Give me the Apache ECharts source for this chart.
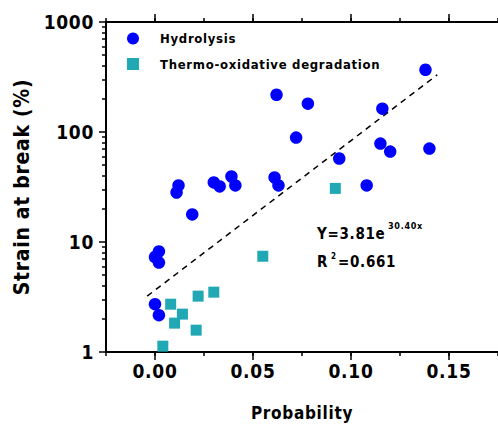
<!DOCTYPE html>
<html>
<head>
<meta charset="utf-8">
<script src="https://cdn.jsdelivr.net/npm/echarts@6/dist/echarts.min.js"></script>
<style>
html,body{margin:0;padding:0;background:#fff;}
#chart{width:498px;height:426px;}
#chart svg text{letter-spacing:0.7px;}
</style>
</head>
<body>
<div id="chart"></div>
<script>
// ---- data ----
var hydroX = [0.000, 0.002, 0.002, 0.000, 0.002, 0.019, 0.011, 0.012, 0.030, 0.033, 0.039, 0.041,
              0.062, 0.078, 0.116, 0.072, 0.115, 0.120, 0.140, 0.094, 0.061, 0.063, 0.108, 0.138];
var hydroY = [2.72, 2.16, 8.2, 7.3, 6.5, 17.8, 28.2, 32.7, 34.8, 32.0, 39.4, 32.7,
              218, 181, 163, 89, 78.5, 66.4, 70.7, 57.4, 38.6, 32.7, 32.7, 368];
var thermoX = [0.008, 0.014, 0.010, 0.022, 0.030, 0.021, 0.004, 0.055, 0.092];
var thermoY = [2.72, 2.21, 1.83, 3.22, 3.50, 1.58, 1.13, 7.42, 30.7];
var trendX = [-0.004, 0.144];
var trendY = [3.22, 331];
var xMajorTicks = [0, 0.05, 0.10, 0.15];
var xTickLabels = ['0.00', '0.05', '0.10', '0.15'];
var yMinorTicks = [2,3,4,5,6,7,8,9,20,30,40,50,60,70,80,90,200,300,400,500,600,700,800,900];
var seriesNames = ['Hydrolysis', 'Thermo-oxidative degradation'];

var X_MIN = -0.025, X_MAX = 0.175, Y_MIN = 1, Y_MAX = 1000;

function zip(a, b) { return a.map(function (v, i) { return [v, b[i]]; }); }

var FONT = '"DejaVu Sans Condensed", "Liberation Sans Narrow", sans-serif';
var BLUE = '#0000FF';
var TEAL = '#20A8B4';
var HIDDEN_LINE = { show: true, onZero: false, lineStyle: { color: '#000', width: 2, opacity: 0 } };

function xAxisDef(pos, major, showLabels) {
  var ax = {
    type: 'value', min: X_MIN, max: X_MAX, position: pos, offset: 0,
    splitLine: { show: false },
    axisLine: { show: true, onZero: false, lineStyle: { color: '#000', width: 2 } }
  };
  if (major) {
    ax.axisTick = { show: true, inside: false, length: 8, customValues: xMajorTicks, lineStyle: { color: '#000', width: 1.5 } };
    ax.axisLabel = showLabels ? {
      show: true, customValues: xMajorTicks, margin: 9,
      fontFamily: FONT, fontWeight: 'bold', fontSize: 19, color: '#000',
      formatter: function (v) { var i = xMajorTicks.findIndex(function (t) { return Math.abs(t - v) < 1e-9; }); return i >= 0 ? xTickLabels[i] : ''; }
    } : { show: false };
  } else {
    ax.interval = 0.025;
    ax.axisLine = HIDDEN_LINE;
    ax.axisTick = { show: true, inside: false, length: 4, lineStyle: { color: '#000', width: 1.5 } };
    ax.axisLabel = { show: false };
  }
  return ax;
}

var xAxes = [
  xAxisDef('bottom', true, true),
  xAxisDef('top', true, false),
  xAxisDef('bottom', false, false),
  xAxisDef('top', false, false)
];
xAxes[0].name = 'Probability';
xAxes[0].nameLocation = 'middle';
xAxes[0].nameGap = 52;
xAxes[0].nameTextStyle = { fontFamily: FONT, fontWeight: 'bold', fontSize: 17, color: '#000' };

var yAxes = [
  {
    type: 'log', logBase: 10, min: Y_MIN, max: Y_MAX, position: 'left', offset: 0,
    splitLine: { show: false },
    axisLine: { show: true, onZero: false, lineStyle: { color: '#000', width: 2 } },
    axisTick: { show: true, inside: false, length: 7, lineStyle: { color: '#000', width: 1.5 } },
    minorTick: { show: false },
    axisLabel: { margin: 12, fontFamily: FONT, fontWeight: 'bold', fontSize: 19, color: '#000',
                 formatter: function (v) { return String(Math.round(v)); } },
    name: 'Strain at break (%)', nameLocation: 'middle', nameGap: 74,
    nameTextStyle: { fontFamily: FONT, fontWeight: 'bold', fontSize: 21, color: '#000' }
  },
  {
    // helper axis carrying the log-decade minor ticks (2..9 of each decade), in log10 units
    type: 'value', min: 0, max: 3, position: 'left', offset: 0,
    splitLine: { show: false },
    axisLine: HIDDEN_LINE,
    axisTick: { show: true, inside: false, length: 4,
                customValues: yMinorTicks.map(function (v) { return Math.log10(v); }),
                lineStyle: { color: '#000', width: 1.5 } },
    axisLabel: { show: false }
  }
];

var chart = echarts.init(document.getElementById('chart'), null, { renderer: 'svg' });
chart.setOption({
  animation: false,
  backgroundColor: '#fff',
  grid: { left: 106, top: 22, right: 0, bottom: 73, containLabel: false },
  xAxis: xAxes,
  yAxis: yAxes,
  legend: {
    orient: 'vertical', left: 122, top: 27, itemWidth: 12, itemHeight: 12, itemGap: 12.5,
    data: [{ name: seriesNames[0], icon: 'circle' }, { name: seriesNames[1], icon: 'rect' }],
    textStyle: { fontFamily: FONT, fontWeight: 'bold', fontSize: 13, color: '#000', padding: [0, 0, 0, 16] }
  },
  series: [
    {
      name: 'trend', type: 'line', xAxisIndex: 0, yAxisIndex: 0,
      data: zip(trendX, trendY), symbol: 'none', silent: true, z: 1,
      lineStyle: { color: '#000', width: 1.5, type: [6, 5] }
    },
    {
      name: seriesNames[0], type: 'scatter', xAxisIndex: 0, yAxisIndex: 0,
      data: zip(hydroX, hydroY), symbol: 'circle', symbolSize: 12.5, z: 3,
      itemStyle: { color: BLUE, opacity: 1 }
    },
    {
      name: seriesNames[1], type: 'scatter', xAxisIndex: 0, yAxisIndex: 0,
      data: zip(thermoX, thermoY), symbol: 'rect', symbolSize: 11, z: 3,
      itemStyle: { color: TEAL, opacity: 1 }
    }
  ],
  graphic: [
    { type: 'text', left: 317, top: 226, style: { text: 'Y=3.81e', fontFamily: FONT, fontWeight: 'bold', fontSize: 15, fill: '#000' } },
    { type: 'text', left: 388, top: 221, style: { text: '30.40x', fontFamily: FONT, fontWeight: 'bold', fontSize: 9, fill: '#000' } },
    { type: 'text', left: 317, top: 254, style: { text: 'R', fontFamily: FONT, fontWeight: 'bold', fontSize: 15, fill: '#000' } },
    { type: 'text', left: 331, top: 252, style: { text: '2', fontFamily: FONT, fontWeight: 'bold', fontSize: 8, fill: '#000' } },
    { type: 'text', left: 338, top: 254, style: { text: '=0.661', fontFamily: FONT, fontWeight: 'bold', fontSize: 15, fill: '#000' } }
  ]
});
</script>
</body>
</html>
